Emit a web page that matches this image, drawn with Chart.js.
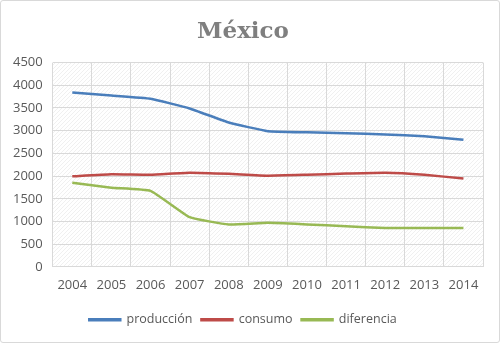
<!DOCTYPE html>
<html>
<head>
<meta charset="utf-8">
<script src="https://cdn.jsdelivr.net/npm/chart.js@4.4.1/dist/chart.umd.min.js"></script>
<style>
  html, body { margin: 0; padding: 0; background: #fff; }
  #wrap { width: 498px; height: 341px; border: 1px solid #d9d9d9; border-radius: 3px; }
</style>
</head>
<body>
<div id="wrap"><canvas id="myChart" width="498" height="341"></canvas></div>
<script>
const years = ['2004', '2005', '2006', '2007', '2008', '2009', '2010', '2011', '2012', '2013', '2014'];
const produccion = [3840, 3775, 3705, 3490, 3180, 2990, 2965, 2945, 2915, 2880, 2800];
const consumo = [1995, 2040, 2030, 2075, 2050, 2010, 2030, 2055, 2075, 2030, 1945];
const diferencia = [1855, 1745, 1675, 1095, 935, 970, 935, 895, 855, 855, 855];
const yTicks = [0, 500, 1000, 1500, 2000, 2500, 3000, 3500, 4000, 4500];

// light hatch fill for the plot area
const hatch = document.createElement('canvas');
hatch.width = 4; hatch.height = 4;
(() => {
    const g = hatch.getContext('2d');
    g.fillStyle = '#ffffff';
    g.fillRect(0, 0, 4, 4);
    g.fillStyle = '#f0f0f0';
    for (let i = 0; i < 4; i++) g.fillRect(i, 3 - i, 1, 1);
})();

const plotBg = {
    id: 'plotBg',
    beforeDraw(chart) {
        const { ctx, chartArea: a } = chart;
        ctx.save();
        ctx.fillStyle = ctx.createPattern(hatch, 'repeat');
        ctx.fillRect(a.left, a.top, a.right - a.left, a.bottom - a.top);
        ctx.restore();
    }
};

const line = (label, data, color) => ({
    label: label,
    data: data,
    borderColor: color,
    backgroundColor: color,
    borderWidth: 2.5,
    pointRadius: 0,
    tension: 0.12,
    fill: false
});

const tickFont = { family: '"Open Sans", sans-serif', size: 13 };

const ctx = document.getElementById('myChart');
new Chart(ctx, {
    type: 'line',
    data: {
        labels: years,
        datasets: [
            line('producción', produccion, '#4a7ebb'),
            line('consumo', consumo, '#be4b48'),
            line('diferencia', diferencia, '#98b954')
        ]
    },
    options: {
        responsive: false,
        animation: false,
        layout: { padding: { left: 2, right: 16, top: 0, bottom: 6 } },
        plugins: {
            title: {
                display: true,
                text: 'México',
                color: '#7f7f7f',
                font: { family: '"DejaVu Serif", serif', size: 23, weight: 'bold' },
                padding: { top: 17, bottom: 17 }
            },
            legend: {
                position: 'bottom',
                labels: {
                    boxWidth: 31,
                    boxHeight: 1,
                    padding: 9,
                    color: '#595959',
                    font: { family: '"Open Sans", sans-serif', size: 12.5 }
                }
            },
            tooltip: { enabled: false }
        },
        scales: {
            x: {
                offset: true,
                grid: { color: '#d9d9d9', drawTicks: false, offset: true },
                border: { color: '#d9d9d9' },
                ticks: {
                    color: '#595959',
                    padding: 11,
                    maxRotation: 0,
                    font: tickFont
                }
            },
            y: {
                min: 0,
                max: 4500,
                afterBuildTicks: (axis) => { axis.ticks = yTicks.map(v => ({ value: v })); },
                grid: { color: '#d9d9d9', drawTicks: false },
                border: { display: false },
                ticks: {
                    color: '#595959',
                    padding: 10,
                    font: tickFont,
                    callback: (v) => String(v)
                }
            }
        }
    },
    plugins: [plotBg]
});
</script>
</body>
</html>
